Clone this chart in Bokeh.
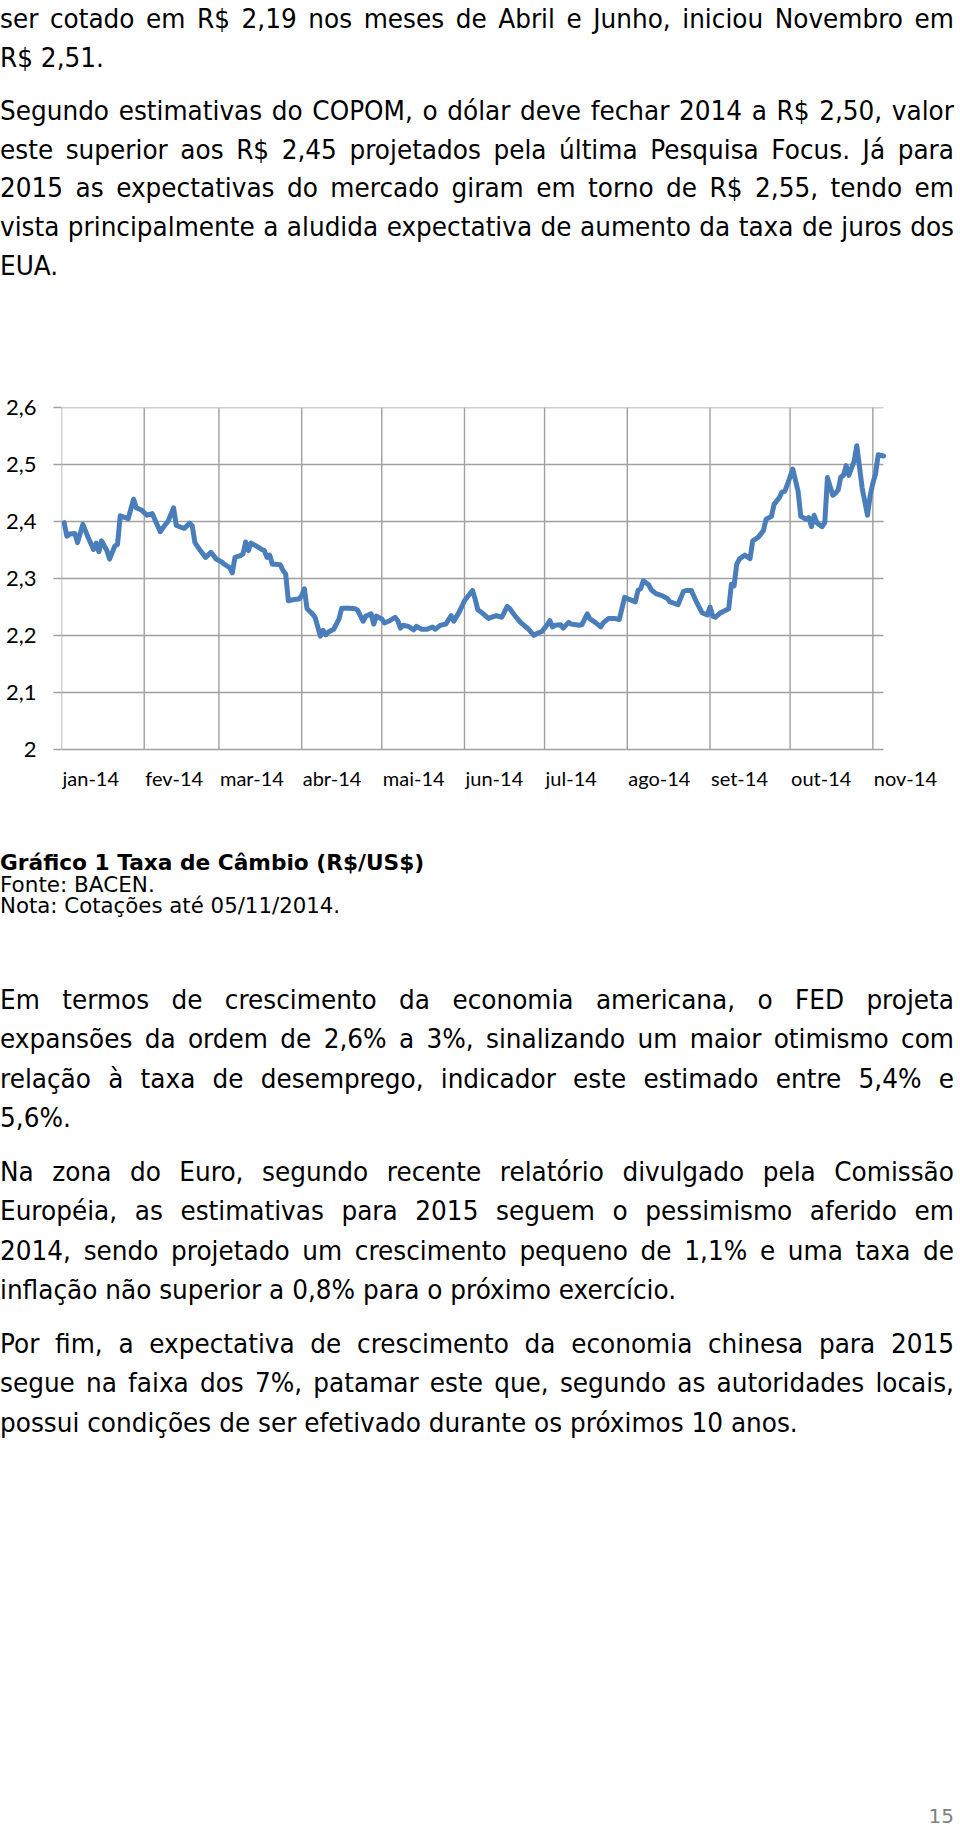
import pandas as pd
from bokeh.plotting import figure
from bokeh.models import Range1d, FixedTicker, CustomJSTickFormatter, Div, ColumnDataSource
from bokeh.core.properties import value
from bokeh.layouts import column
from bokeh.embed import file_html
from bokeh.resources import INLINE

# ---------------- data ----------------
dates = [
    "2014-01-02", "2014-01-03", "2014-01-04", "2014-01-06", "2014-01-07", "2014-01-09", "2014-01-11",
    "2014-01-13", "2014-01-14", "2014-01-15", "2014-01-16", "2014-01-18", "2014-01-19", "2014-01-21",
    "2014-01-22", "2014-01-23", "2014-01-26", "2014-01-28", "2014-01-29", "2014-01-31",
    "2014-02-02", "2014-02-04", "2014-02-07", "2014-02-08", "2014-02-10", "2014-02-12", "2014-02-13",
    "2014-02-16", "2014-02-18", "2014-02-19", "2014-02-20", "2014-02-22", "2014-02-24", "2014-02-26",
    "2014-02-28",
    "2014-03-02", "2014-03-03", "2014-03-05", "2014-03-06", "2014-03-07", "2014-03-09", "2014-03-10",
    "2014-03-11", "2014-03-12", "2014-03-13", "2014-03-15", "2014-03-17", "2014-03-18", "2014-03-19",
    "2014-03-20", "2014-03-21", "2014-03-22", "2014-03-24", "2014-03-25", "2014-03-26", "2014-03-27",
    "2014-03-29", "2014-03-31",
    "2014-04-01", "2014-04-02", "2014-04-03", "2014-04-05", "2014-04-06", "2014-04-08", "2014-04-09",
    "2014-04-10", "2014-04-11", "2014-04-13", "2014-04-15", "2014-04-16", "2014-04-19", "2014-04-21",
    "2014-04-22", "2014-04-24", "2014-04-25", "2014-04-26", "2014-04-27", "2014-04-28", "2014-04-29",
    "2014-05-01", "2014-05-02", "2014-05-04", "2014-05-06", "2014-05-07", "2014-05-08", "2014-05-09",
    "2014-05-11", "2014-05-13", "2014-05-14", "2014-05-16", "2014-05-18", "2014-05-20", "2014-05-21",
    "2014-05-23", "2014-05-25", "2014-05-27", "2014-05-28", "2014-05-30",
    "2014-06-01", "2014-06-02", "2014-06-04", "2014-06-05", "2014-06-06", "2014-06-08", "2014-06-10",
    "2014-06-11", "2014-06-13", "2014-06-15", "2014-06-17", "2014-06-18", "2014-06-20", "2014-06-22",
    "2014-06-23", "2014-06-25", "2014-06-27", "2014-06-28", "2014-06-30",
    "2014-07-02", "2014-07-03", "2014-07-04", "2014-07-05", "2014-07-07", "2014-07-08", "2014-07-10",
    "2014-07-11", "2014-07-14", "2014-07-15", "2014-07-17", "2014-07-18", "2014-07-20", "2014-07-22",
    "2014-07-23", "2014-07-25", "2014-07-27", "2014-07-29", "2014-07-31",
    "2014-08-02", "2014-08-04", "2014-08-05", "2014-08-06", "2014-08-07", "2014-08-09", "2014-08-10",
    "2014-08-12", "2014-08-14", "2014-08-16", "2014-08-17", "2014-08-20", "2014-08-22", "2014-08-23",
    "2014-08-25", "2014-08-27", "2014-08-29", "2014-08-31",
    "2014-09-01", "2014-09-02", "2014-09-03", "2014-09-05", "2014-09-08", "2014-09-09", "2014-09-10",
    "2014-09-11", "2014-09-12", "2014-09-14", "2014-09-16", "2014-09-17", "2014-09-19", "2014-09-21",
    "2014-09-22", "2014-09-24", "2014-09-25", "2014-09-27", "2014-09-28", "2014-09-29", "2014-09-30",
    "2014-10-02", "2014-10-04", "2014-10-05", "2014-10-07", "2014-10-08", "2014-10-09", "2014-10-10",
    "2014-10-11", "2014-10-13", "2014-10-14", "2014-10-15", "2014-10-17", "2014-10-18", "2014-10-19",
    "2014-10-20", "2014-10-21", "2014-10-22", "2014-10-23", "2014-10-25", "2014-10-26", "2014-10-28",
    "2014-10-30", "2014-10-31",
    "2014-11-01", "2014-11-02", "2014-11-03", "2014-11-05",
]
rates = [
    2.398, 2.374, 2.378, 2.379, 2.363, 2.395, 2.372,
    2.351, 2.362, 2.347, 2.366, 2.349, 2.334, 2.357,
    2.360, 2.410, 2.405, 2.439, 2.424, 2.420,
    2.411, 2.414, 2.382, 2.389, 2.401, 2.424, 2.393,
    2.388, 2.397, 2.392, 2.363, 2.349, 2.337, 2.346,
    2.334,
    2.329, 2.325, 2.319, 2.310, 2.337, 2.340, 2.343,
    2.364, 2.349, 2.362, 2.357, 2.351, 2.349, 2.337,
    2.341, 2.325, 2.325, 2.324, 2.314, 2.308, 2.261,
    2.263, 2.264,
    2.270, 2.282, 2.247, 2.238, 2.232, 2.199, 2.209,
    2.201, 2.206, 2.211, 2.229, 2.248, 2.248, 2.247,
    2.244, 2.225, 2.234, 2.236, 2.238, 2.220, 2.234,
    2.229, 2.222, 2.226, 2.232, 2.226, 2.213, 2.218,
    2.216, 2.210, 2.216, 2.211, 2.211, 2.215, 2.211,
    2.218, 2.220, 2.235, 2.225, 2.241,
    2.261, 2.267, 2.279, 2.264, 2.245, 2.238, 2.230,
    2.232, 2.235, 2.232, 2.251, 2.247, 2.234, 2.223,
    2.219, 2.211, 2.200, 2.203, 2.207,
    2.219, 2.226, 2.215, 2.218, 2.219, 2.213, 2.223,
    2.220, 2.218, 2.219, 2.238, 2.229, 2.223, 2.215,
    2.222, 2.230, 2.230, 2.228, 2.267,
    2.263, 2.259, 2.279, 2.282, 2.296, 2.289, 2.280,
    2.273, 2.270, 2.265, 2.259, 2.254, 2.277, 2.279,
    2.279, 2.258, 2.240, 2.236,
    2.250, 2.234, 2.232, 2.240, 2.247, 2.290, 2.287,
    2.325, 2.334, 2.341, 2.335, 2.366, 2.372, 2.384,
    2.404, 2.409, 2.430, 2.442, 2.452, 2.453, 2.465,
    2.492, 2.453, 2.409, 2.404, 2.407, 2.391, 2.411,
    2.398, 2.391, 2.398, 2.477, 2.446, 2.450, 2.455,
    2.478, 2.481, 2.498, 2.481, 2.506, 2.533, 2.459,
    2.411, 2.445,
    2.467, 2.483, 2.517, 2.515,
]

month_starts = ["2014-01-01", "2014-02-01", "2014-03-01", "2014-04-01", "2014-05-01", "2014-06-01",
                "2014-07-01", "2014-08-01", "2014-09-01", "2014-10-01", "2014-11-01"]
month_labels = ["jan-14", "fev-14", "mar-14", "abr-14", "mai-14", "jun-14",
                "jul-14", "ago-14", "set-14", "out-14", "nov-14"]
axis_end = "2014-11-05"
y_ticks = [2.0, 2.1, 2.2, 2.3, 2.4, 2.5, 2.6]
y_labels = ["2", "2,1", "2,2", "2,3", "2,4", "2,5", "2,6"]

top_paragraphs = [
    ["ser cotado em R$ 2,19 nos meses de Abril e Junho, iniciou Novembro em",
     "R$ 2,51."],
    ["Segundo estimativas do COPOM, o dólar deve fechar 2014 a R$ 2,50, valor",
     "este superior aos R$ 2,45 projetados pela última Pesquisa Focus. Já para",
     "2015 as expectativas do mercado giram em torno de R$ 2,55, tendo em",
     "vista principalmente a aludida expectativa de aumento da taxa de juros dos",
     "EUA."],
]
caption_title = "Gráfico 1 Taxa de Câmbio (R$/US$)"
caption_source = "Fonte: BACEN."
caption_note = "Nota: Cotações até 05/11/2014."
bottom_paragraphs = [
    ["Em termos de crescimento da economia americana, o FED projeta",
     "expansões da ordem de 2,6% a 3%, sinalizando um maior otimismo com",
     "relação à taxa de desemprego, indicador este estimado entre 5,4% e",
     "5,6%."],
    ["Na zona do Euro, segundo recente relatório divulgado pela Comissão",
     "Européia, as estimativas para 2015 seguem o pessimismo aferido em",
     "2014, sendo projetado um crescimento pequeno de 1,1% e uma taxa de",
     "inflação não superior a 0,8% para o próximo exercício."],
    ["Por fim, a expectativa de crescimento da economia chinesa para 2015",
     "segue na faixa dos 7%, patamar este que, segundo as autoridades locais,",
     "possui condições de ser efetivado durante os próximos 10 anos."],
]
page_number = "15"

# ---------------- styles ----------------
W = 954
GRID = "#A0A0A0"
LINE = "#4A7EBB"
BODY_FONT = "'DejaVu Sans', Verdana, sans-serif"
CHART_FONT = "Lato"


def text_block(paragraphs, font_size, line_h, scale, gap, pad_top):
    inner_w = W / scale
    parts = [f'<div style="padding-top:{pad_top}px;">',
             f'<div style="width:{inner_w:.1f}px; transform:scaleX({scale}); transform-origin:0 0; '
             f'font-family:{BODY_FONT}; font-size:{font_size}px; line-height:{line_h}px; color:#000;">']
    for pi, lines in enumerate(paragraphs):
        for li, ln in enumerate(lines):
            last = li == len(lines) - 1
            mt = gap if (li == 0 and pi > 0) else 0
            align = "text-align:left;" if last else "text-align:justify; text-align-last:justify;"
            parts.append(f'<div style="margin:{mt}px 0 0 0; {align}">{ln}</div>')
    parts.append('</div></div>')
    return "".join(parts)


top_div = Div(text=text_block(top_paragraphs, 27, 38.6, 0.918, 15, 0),
              width=W, height=300, margin=0)

cap_html = (
    '<div style="padding-top:57px; font-family:' + BODY_FONT + '; color:#000;">'
    f'<div style="font-weight:bold; font-size:21.7px; line-height:22px;">{caption_title}</div>'
    f'<div style="font-size:21.5px; line-height:21px;">{caption_source}</div>'
    f'<div style="font-size:21.3px; line-height:21px;">{caption_note}</div>'
    '</div>'
)
cap_div = Div(text=cap_html, width=W, height=145, margin=0)

bottom_div = Div(text=text_block(bottom_paragraphs, 27, 39.4, 0.918, 14.3, 40),
                 width=W, height=510, margin=0)

num_div = Div(text=(f'<div style="padding-top:360px; width:{W}px; text-align:right; font-family:{BODY_FONT}; '
                    f'font-size:20px; line-height:12px; color:#808080;">{page_number}</div>'),
              width=W, height=372, margin=0)

# ---------------- chart ----------------
# plotting band: 822 x 342 px for jan 1..nov 5 and 2.0..2.6; the frame is
# extended right and below so that the left-aligned month labels fit inside it
BAND_W, BAND_H = 822, 342
LEFT, RIGHT, TOP = 61, 10, 107
FRAME_W = W - LEFT - RIGHT
FRAME_H = 388

x_start = pd.Timestamp(month_starts[0])
x_data_end = pd.Timestamp(axis_end)
x_end = x_start + (x_data_end - x_start) * (FRAME_W / BAND_W)
span = y_ticks[-1] - y_ticks[0]
y_lo = y_ticks[0] - span * (FRAME_H - BAND_H) / BAND_H
label_y = y_ticks[0] - span * 28 / BAND_H

src = ColumnDataSource(dict(x=pd.to_datetime(dates), y=rates))
vgrid_src = ColumnDataSource(dict(x=pd.to_datetime(month_starts),
                                  y0=[y_ticks[0]] * len(month_starts),
                                  y1=[y_ticks[-1]] * len(month_starts)))
hgrid_src = ColumnDataSource(dict(x0=[x_start] * len(y_ticks),
                                  x1=[x_data_end] * len(y_ticks),
                                  y=y_ticks))
lab_src = ColumnDataSource(dict(x=pd.to_datetime(month_starts),
                                y=[label_y] * len(month_starts),
                                text=month_labels))

fmt_code = """
let best = 0, dist = Infinity;
for (let k = 0; k < tick_vals.length; k++) {
  const d = Math.abs(tick_vals[k] - tick);
  if (d < dist) { dist = d; best = k; }
}
return tick_labels[best];
"""

p = figure(width=W, height=TOP + FRAME_H, x_axis_type="datetime", x_axis_location=None,
           x_range=Range1d(x_start, x_end),
           y_range=Range1d(y_lo, y_ticks[-1]),
           min_border_left=LEFT, min_border_right=RIGHT, min_border_top=TOP, min_border_bottom=0,
           toolbar_location=None, output_backend="svg", margin=0)

p.outline_line_color = None
p.background_fill_color = "white"
p.border_fill_color = "white"
p.xgrid.visible = False
p.ygrid.visible = False

# gridlines restricted to the data band
p.segment(x0="x0", y0="y", x1="x1", y1="y", source=hgrid_src,
          line_color=GRID, line_width=1.4)
p.segment(x0="x", y0="y0", x1="x", y1="y1", source=vgrid_src,
          line_color=GRID, line_width=1.4)

p.line(x="x", y="y", source=src, line_color=LINE, line_width=5,
       line_join="round", line_cap="round")

p.text(x="x", y="y", text="text", source=lab_src, text_align="left", text_baseline="middle",
       x_offset=1, text_font=value(CHART_FONT), text_font_size=value("20px"), text_color="#000000")

yt = FixedTicker(ticks=y_ticks)
p.yaxis.ticker = yt
p.yaxis.formatter = CustomJSTickFormatter(args=dict(tick_vals=y_ticks, tick_labels=y_labels), code=fmt_code)
p.yaxis.axis_line_color = None
p.yaxis.minor_tick_line_color = None
p.yaxis.major_label_text_font = CHART_FONT
p.yaxis.major_label_text_font_size = "22px"
p.yaxis.major_label_text_color = "#000000"
p.yaxis.major_tick_line_color = GRID
p.yaxis.major_tick_line_width = 1.4
p.yaxis.major_tick_out = 8
p.yaxis.major_tick_in = 0
p.yaxis.major_label_standoff = 17

page = column(top_div, p, cap_div, bottom_div, num_div, spacing=0)

open("out.html", "w").write(file_html(page, INLINE))
